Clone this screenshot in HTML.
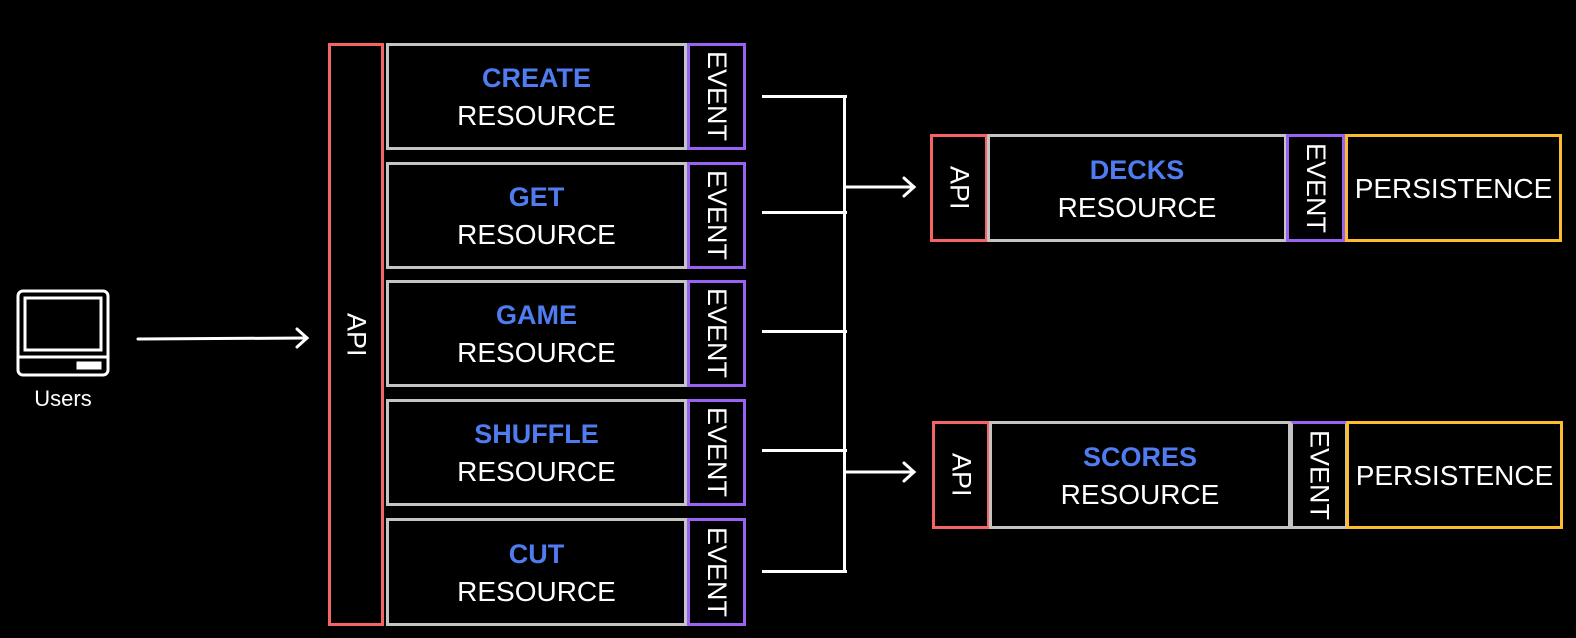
<!DOCTYPE html>
<html><head><meta charset="utf-8"><style>
body{margin:0;width:1576px;height:638px;background:#000;overflow:hidden;font-family:"Liberation Sans",sans-serif;color:#fff;position:relative}
.b{position:absolute;box-sizing:border-box;border:3px solid;display:flex;align-items:center;justify-content:center;text-align:center}
.r{border-color:#f46464}.g{border-color:#c4c4c4}.p{border-color:#9a62f2}.y{border-color:#fcbc2c}
.v{writing-mode:vertical-rl;font-size:27px;letter-spacing:0px}
.t{font-size:28px;line-height:37px}
.t b{color:#4f7cf0;font-size:27px}
.l{position:absolute;background:#fff}
</style></head><body>
<div class="b r v" style="left:328px;top:43px;width:56px;height:583px">API</div>
<div class="b g t" style="left:386px;top:43px;width:301px;height:107px"><div><b>CREATE</b><br>RESOURCE</div></div>
<div class="b g t" style="left:386px;top:162px;width:301px;height:107px"><div><b>GET</b><br>RESOURCE</div></div>
<div class="b g t" style="left:386px;top:280px;width:301px;height:107px"><div><b>GAME</b><br>RESOURCE</div></div>
<div class="b g t" style="left:386px;top:399px;width:301px;height:107px"><div><b>SHUFFLE</b><br>RESOURCE</div></div>
<div class="b g t" style="left:386px;top:518px;width:301px;height:108px"><div><b>CUT</b><br>RESOURCE</div></div>
<div class="b p v" style="left:687px;top:43px;width:59px;height:107px">EVENT</div>
<div class="b p v" style="left:687px;top:162px;width:59px;height:107px">EVENT</div>
<div class="b p v" style="left:687px;top:280px;width:59px;height:107px">EVENT</div>
<div class="b p v" style="left:687px;top:399px;width:59px;height:107px">EVENT</div>
<div class="b p v" style="left:687px;top:518px;width:59px;height:108px">EVENT</div>

<div class="l" style="left:762px;top:95px;width:85px;height:3px"></div>
<div class="l" style="left:762px;top:211px;width:85px;height:3px"></div>
<div class="l" style="left:762px;top:330px;width:85px;height:3px"></div>
<div class="l" style="left:762px;top:449px;width:85px;height:3px"></div>
<div class="l" style="left:762px;top:570px;width:85px;height:3px"></div>
<div class="l" style="left:843px;top:95px;width:3px;height:478px"></div>
<svg style="position:absolute;left:0;top:0" width="1576" height="638">
<g stroke="#fff" stroke-width="3" fill="none" stroke-linecap="round">
<line x1="845" y1="187" x2="914" y2="187"/><polyline points="904,178 914,187 904,196"/>
<line x1="845" y1="472" x2="914" y2="472"/><polyline points="904,463 914,472 904,481"/>
<line x1="138" y1="339" x2="307" y2="338"/><polyline points="297,329 307,338 297,347"/>
<rect x="18" y="291" width="90" height="84" rx="5"/>
<rect x="25" y="298" width="76" height="52"/>
<line x1="18" y1="357" x2="108" y2="357"/>
<rect x="78" y="363" width="22" height="5" fill="#fff"/>
</g></svg>
<div style="position:absolute;left:20px;top:386px;width:86px;text-align:center;font-size:22px">Users</div>

<div class="b r v" style="left:930px;top:134px;width:58px;height:108px">API</div>
<div class="b g t" style="left:987px;top:134px;width:300px;height:108px"><div><b>DECKS</b><br>RESOURCE</div></div>
<div class="b p v" style="left:1286px;top:134px;width:59px;height:108px">EVENT</div>
<div class="b y t" style="left:1345px;top:134px;width:217px;height:108px">PERSISTENCE</div>

<div class="b r v" style="left:932px;top:421px;width:58px;height:108px">API</div>
<div class="b g t" style="left:989px;top:421px;width:302px;height:108px"><div><b>SCORES</b><br>RESOURCE</div></div>
<div class="b g v" style="left:1290px;top:421px;width:58px;height:108px;border-top-color:#9a62f2">EVENT</div>
<div class="b y t" style="left:1346px;top:421px;width:217px;height:108px">PERSISTENCE</div>
</body></html>
